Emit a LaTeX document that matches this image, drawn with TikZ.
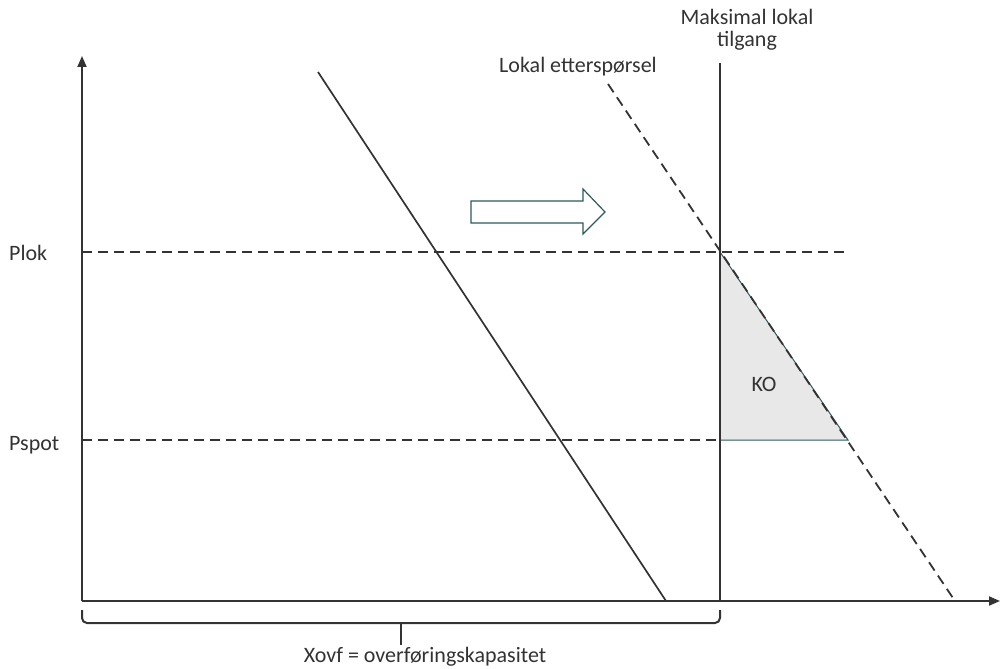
\documentclass[tikz,border=0pt]{standalone}
\usepackage{fontspec}
\setmainfont{Carlito}
\usetikzlibrary{arrows.meta}
\usetikzlibrary{positioning,calc}
\definecolor{linegray}{HTML}{333333}
\definecolor{tealedge}{HTML}{2E5A5C}
\definecolor{kofill}{HTML}{E8E8E8}

\begin{document}
\begin{tikzpicture}[
  x=1pt, y=-1pt, >={Triangle[length=11pt,width=9pt]},
  axis/.style={draw=linegray,line width=2pt},
  curve/.style={draw=linegray,line width=1.7pt},
  capline/.style={draw=linegray,line width=2.6pt},
  pricedash/.style={draw=linegray,line width=1.8pt,dash pattern=on 10pt off 6pt},
  demanddash/.style={draw=linegray,line width=1.8pt,dash pattern=on 10pt off 6pt},
  lbl/.style={font=\fontsize{22}{22}\selectfont,text=linegray,inner sep=0pt},
  bracket/.style={draw=linegray,line width=2pt,rounded corners=5pt}
]
\useasboundingbox (0,0) rectangle (1001,669);

% --- Coordinates ---
\coordinate (o)     at (82,601);
\coordinate (ytop)  at (82,56);
\coordinate (xend)  at (1000,601);
\coordinate (s1)    at (318,72);
\coordinate (s2)    at (666,601);
\coordinate (cap1)  at (720,63);
\coordinate (cap2)  at (720,601);
\coordinate (d1)    at (608,84);
\coordinate (d2)    at (955,601);
\coordinate (plokL) at (82,252);
\coordinate (plokR) at (850,252);
\coordinate (pspL)  at (82,440);
\coordinate (pspR)  at (720,440);
\coordinate (koA)   at (720,252);
\coordinate (koB)   at (720,440);
\coordinate (koC)   at (848,440);
\coordinate (brL)   at (82,610);
\coordinate (brR)   at (720,610);
\coordinate (brM)   at (401,623);
\coordinate (brTip) at (401,645);

% --- KO area ---
\filldraw[fill=kofill,draw=tealedge,line width=1pt] (koA) -- (koB) -- (koC) -- cycle;
\node[lbl] (ko) at (764,384) {KO};

% --- Axes ---
\draw[axis,->] (o) -- (ytop);
\draw[axis,->] (o) -- (xend);

% --- Price levels ---
\draw[pricedash] (plokL) -- (plokR);
\draw[pricedash] (pspL) -- (pspR);
\node[lbl,anchor=base west] (plok)  at (9,260) {Plok};
\node[lbl,anchor=base west] (pspot) at (9,450) {Pspot};

% --- Curves ---
\draw[curve] (s1) -- (s2);
\draw[capline] (cap1) -- (cap2);
\draw[demanddash] (d1) -- (d2);
\node[lbl,anchor=base] (demand) at (578,72) {Lokal etterspørsel};
\node[lbl,anchor=north,align=center] (maxcap) at (747,9) {Maksimal lokal\\tilgang};

% --- Shift arrow ---
\draw[draw=tealedge,line width=1.2pt,fill=white]
  (471,201) -- (583,201) -- (583,189) -- (605,212) -- (583,234)
  -- (583,223) -- (471,223) -- cycle;

% --- Transfer capacity ---
\draw[bracket] (brL) |- (brM);
\draw[bracket] (brR) |- (brM);
\draw[draw=linegray,line width=2pt] (brM) -- (brTip);
\node[lbl,anchor=base] (xovf) at (425,662) {Xovf = overføringskapasitet};

\end{tikzpicture}
\end{document}
